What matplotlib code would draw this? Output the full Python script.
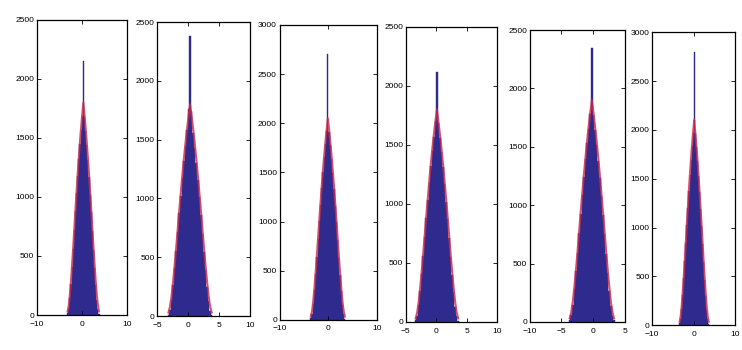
import matplotlib.pyplot as plt
import numpy as np

# bin centres, relative to the peak of each histogram
bin_offsets = [-3.5, -3.25, -3.0, -2.75, -2.5, -2.25, -2.0, -1.75, -1.5, -1.25,
               -1.0, -0.75, -0.5, -0.25, 0.0, 0.25, 0.5, 0.75, 1.0, 1.25,
               1.5, 1.75, 2.0, 2.25, 2.5, 2.75, 3.0, 3.25, 3.5]
peak_x = [0.3, 0.3, -0.1, 0.1, -0.2, 0.1]

counts_1 = [15, 55, 140, 265, 410, 560, 720, 880, 1030, 1180, 1320, 1450, 1570, 1690, 2150,
            1680, 1560, 1440, 1310, 1170, 1020, 870, 710, 550, 400, 255, 130, 50, 12]
counts_2 = [12, 50, 135, 260, 405, 555, 715, 875, 1025, 1175, 1315, 1450, 1580, 1760, 2380,
            1740, 1560, 1430, 1300, 1160, 1010, 860, 700, 545, 395, 250, 125, 45, 10]
counts_3 = [17, 63, 160, 302, 467, 638, 820, 1002, 1173, 1344, 1503, 1652, 1788, 1925, 2700,
            1914, 1777, 1640, 1492, 1333, 1162, 991, 809, 626, 456, 290, 148, 57, 14]
counts_4 = [15, 55, 140, 265, 410, 560, 720, 880, 1030, 1180, 1320, 1450, 1570, 1700, 2120,
            1690, 1560, 1440, 1310, 1170, 1020, 870, 710, 550, 400, 255, 130, 50, 12]
counts_5 = [16, 58, 148, 280, 433, 591, 760, 929, 1087, 1246, 1393, 1531, 1657, 1784, 2350,
            1774, 1647, 1520, 1383, 1235, 1077, 918, 750, 581, 422, 269, 137, 53, 13]
counts_6 = [18, 64, 163, 309, 478, 653, 840, 1027, 1202, 1377, 1540, 1692, 1832, 1972, 2800,
            1960, 1820, 1680, 1528, 1365, 1190, 1015, 828, 642, 467, 297, 152, 58, 14]

# fitted curves (red)
fit_1 = [30, 80, 170, 290, 430, 580, 740, 900, 1050, 1200, 1340, 1470, 1590, 1700, 1800,
         1700, 1590, 1470, 1340, 1200, 1050, 900, 740, 580, 430, 290, 170, 80, 30]
fit_2 = [30, 80, 170, 290, 430, 580, 740, 900, 1050, 1200, 1340, 1470, 1590, 1700, 1800,
         1700, 1590, 1470, 1340, 1200, 1050, 900, 740, 580, 430, 290, 170, 80, 30]
fit_3 = [34, 91, 194, 330, 490, 661, 843, 1025, 1196, 1367, 1526, 1674, 1811, 1936, 2050,
         1936, 1811, 1674, 1526, 1367, 1196, 1025, 843, 661, 490, 330, 194, 91, 34]
fit_4 = [30, 80, 170, 290, 430, 580, 740, 900, 1050, 1200, 1340, 1470, 1590, 1700, 1800,
         1700, 1590, 1470, 1340, 1200, 1050, 900, 740, 580, 430, 290, 170, 80, 30]
fit_5 = [32, 84, 179, 306, 454, 612, 781, 950, 1108, 1267, 1414, 1552, 1678, 1794, 1900,
         1794, 1678, 1552, 1414, 1267, 1108, 950, 781, 612, 454, 306, 179, 84, 32]
fit_6 = [35, 93, 198, 338, 502, 677, 863, 1050, 1225, 1400, 1563, 1715, 1855, 1983, 2100,
         1983, 1855, 1715, 1563, 1400, 1225, 1050, 863, 677, 502, 338, 198, 93, 35]

all_counts = [counts_1, counts_2, counts_3, counts_4, counts_5, counts_6]
all_fits = [fit_1, fit_2, fit_3, fit_4, fit_5, fit_6]

x_limits = [(-10, 10), (-5, 10), (-10, 10), (-5, 10), (-10, 5), (-10, 10)]
x_ticks = [[-10, 0, 10], [-5, 0, 5, 10], [-10, 0, 10], [-5, 0, 5, 10], [-10, -5, 0, 5], [-10, 0, 10]]
y_tops = [2500, 2500, 3000, 2500, 2500, 3000]

# axes boxes [left, bottom, width, height] in figure fraction
boxes = [[0.050, 0.100, 0.121, 0.843],
         [0.212, 0.097, 0.125, 0.840],
         [0.377, 0.086, 0.131, 0.843],
         [0.547, 0.080, 0.123, 0.843],
         [0.714, 0.080, 0.128, 0.834],
         [0.879, 0.071, 0.112, 0.837]]

plt.rcParams['font.family'] = ['Liberation Sans', 'DejaVu Sans']

fig = plt.figure(figsize=(7.42, 3.5), dpi=100)

for i in range(6):
    ax = fig.add_axes(boxes[i])
    xs = np.array(bin_offsets) + peak_x[i]
    ax.bar(xs, all_counts[i], width=0.25, color='#2e2a8e', edgecolor='#2e2a8e', linewidth=0.3)
    ax.plot(xs, all_fits[i], color='#cc2a4a', linewidth=1.5, alpha=0.8)
    ax.set_xlim(x_limits[i])
    ax.set_ylim(0, y_tops[i])
    ax.set_xticks(x_ticks[i])
    ax.set_yticks(range(0, y_tops[i] + 1, 500))
    ax.tick_params(direction='in', length=3, width=0.6, labelsize=6, pad=2,
                   top=True, right=True)
    ax.tick_params(axis='x', pad=4)
    for s in ax.spines.values():
        s.set_linewidth(0.9)

plt.savefig('out.png', dpi=100)
